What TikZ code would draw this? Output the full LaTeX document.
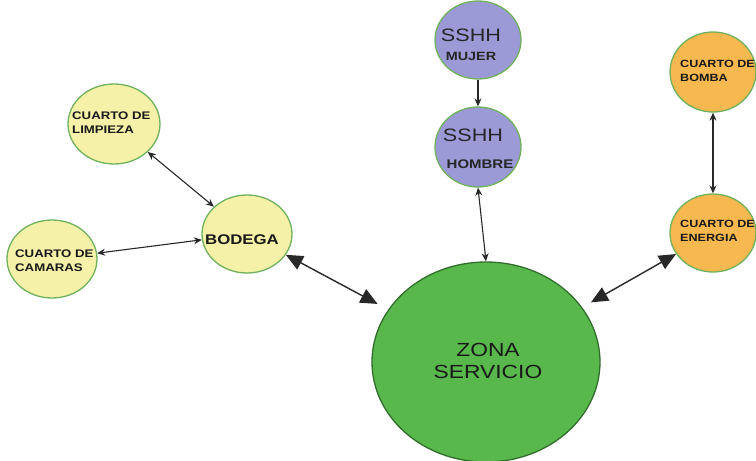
\documentclass[tikz,border=0pt]{standalone}
\usepackage{fontspec}
\setmainfont{Liberation Sans}[FakeStretch=1.2]
\usetikzlibrary{shapes.geometric,arrows.meta}
\definecolor{pyellow}{RGB}{246,241,168}
\definecolor{ppurple}{RGB}{155,153,214}
\definecolor{porange}{RGB}{248,184,80}
\definecolor{pzona}{RGB}{88,184,76}
\definecolor{rimgreen}{RGB}{112,178,92}
\definecolor{rimdark}{RGB}{50,110,44}
\definecolor{lineg}{RGB}{40,40,40}
\tikzset{
  room/.style={ellipse, draw=rimgreen, line width=1.3pt, inner sep=0pt},
  lbl/.style={inner sep=0pt, text=black!90, align=left, anchor=west,
     font=\bfseries\fontsize{11}{14}\selectfont},
  smallarrow/.style={draw=lineg, line width=1.1pt,
     {Stealth[length=8pt,width=7pt]}-{Stealth[length=8pt,width=7pt]}},
  onearrow/.style={draw=lineg, line width=1.1pt, -{Stealth[length=8pt,width=7pt]}},
  bigarrow/.style={draw=lineg, line width=1.4pt,
     {Triangle[length=17pt,width=15pt]}-{Triangle[length=17pt,width=15pt]}}
}
\begin{document}
\begin{tikzpicture}[x=1pt,y=-1pt]
\useasboundingbox (0,0) rectangle (756,461);
\clip (0,0) rectangle (756,461);
\fill[white] (0,0) rectangle (756,461);

% rooms
\node[room, fill=pyellow, minimum width=92pt, minimum height=80pt] (limp) at (114,124) {};
\node[room, fill=pyellow, minimum width=90pt, minimum height=78pt] (cam) at (52,259) {};
\node[room, fill=pyellow, minimum width=90pt, minimum height=78pt] (bod) at (247,234) {};
\node[room, fill=ppurple, minimum width=86pt, minimum height=78pt] (muj) at (478,40) {};
\node[room, fill=ppurple, minimum width=86pt, minimum height=80pt] (hom) at (478,147) {};
\node[room, fill=porange, minimum width=86pt, minimum height=80pt] (bom) at (713,72) {};
\node[room, fill=porange, minimum width=86pt, minimum height=78pt] (ene) at (713,233) {};
\node[ellipse, draw=rimdark, line width=1.3pt, fill=pzona, inner sep=0pt,
      minimum width=228pt, minimum height=200pt] (zona) at (486,362) {};

% labels
\node[lbl] (limpT) at (72,122.5) {CUARTO DE\\LIMPIEZA};
\node[lbl] (camT) at (15,261) {CUARTO DE\\CAMARAS};
\node[lbl, font=\bfseries\fontsize{10.5}{14}\selectfont] (bomT) at (680,71) {CUARTO DE\\BOMBA};
\node[lbl, font=\bfseries\fontsize{10.5}{14}\selectfont] (eneT) at (680,231) {CUARTO DE\\ENERGIA};
\node[inner sep=0pt, text=black!90, font=\bfseries\fontsize{14}{16}\selectfont] (bodT) at (242,240) {BODEGA};
\node[inner sep=0pt, text=black!85, font=\fontsize{18}{20}\selectfont] (mujS) at (471,35.5) {SSHH};
\node[inner sep=0pt, text=black!85, font=\bfseries\fontsize{12}{14}\selectfont] (mujT) at (471,56) {MUJER};
\node[inner sep=0pt, text=black!85, font=\fontsize{18}{20}\selectfont] (homS) at (473,135) {SSHH};
\node[inner sep=0pt, text=black!85, font=\bfseries\fontsize{12.5}{14}\selectfont] (homT) at (480,164) {HOMBRE};
\node[inner sep=0pt, text=black!90, align=center, font=\fontsize{19}{22}\selectfont] (zonaT) at (488,361) {ZONA\\SERVICIO};

% connectors
\draw[smallarrow] (limp) -- (bod);
\draw[smallarrow] (cam) -- (bod);
\draw[bigarrow, shorten >=12pt] (bod) -- (zona);
\draw[onearrow] (muj) -- (hom);
\draw[smallarrow] (hom.south) -- (zona.north);
\draw[smallarrow] (bom) -- (ene);
\draw[bigarrow, shorten >=10pt] (ene) -- (zona);
\end{tikzpicture}
\end{document}
